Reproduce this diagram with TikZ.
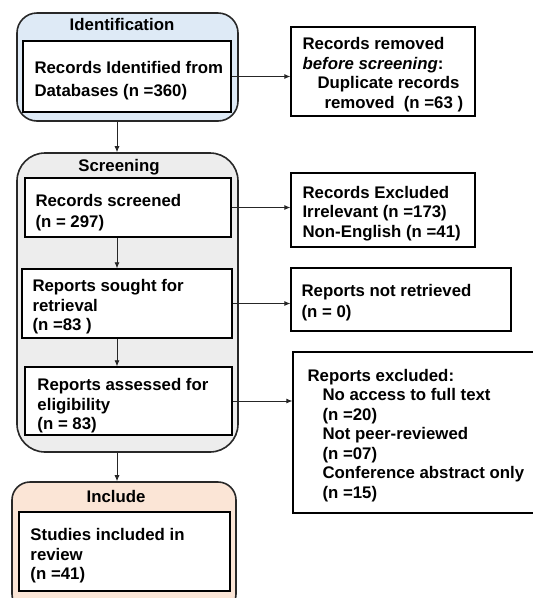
\documentclass[tikz,border=0pt]{standalone}
\usepackage{fontspec}
\setmainfont{Liberation Sans}
\usetikzlibrary{arrows.meta}
\definecolor{idfill}{RGB}{222,234,246}
\definecolor{scfill}{RGB}{237,237,237}
\definecolor{infill}{RGB}{251,229,214}
\definecolor{edge}{RGB}{40,40,40}
\begin{document}
\begin{tikzpicture}[x=1pt,y=-1pt,
  every node/.style={font=\fontsize{16.8}{19.5}\selectfont\bfseries},
  outer/.style={draw=edge, line width=1.6pt, inner sep=0pt},
  box/.style={draw=black, line width=1.4pt, fill=white, inner sep=0pt},
  rbox/.style={draw=black, line width=1.3pt, fill=white, inner sep=0pt},
  txt/.style={align=left, anchor=west, inner sep=0pt},
  ttl/.style={inner sep=0pt},
  arr/.style={draw=black!85, line width=0.8pt, -{Latex[length=6pt,width=5pt]}}]
\useasboundingbox (0,0) rectangle (533,598);
% outer stage boxes
\node[outer, fill=idfill, rounded corners=20pt, minimum width=221pt, minimum height=108pt] (ident) at (127.5,67) {};
\node[outer, fill=scfill, rounded corners=28pt, minimum width=221pt, minimum height=299pt] (screen) at (127.5,302.5) {};
\node[outer, fill=infill, rounded corners=18pt, minimum width=224pt, minimum height=130pt] (incl) at (124,547) {};
% titles
\node[ttl] (tident) at (122,24) {Identification};
\node[ttl] (tscreen) at (119,167) {Screening};
\node[ttl] (tincl) at (116,496) {Include};
% inner boxes
\node[box, minimum width=208pt, minimum height=71pt] (identIn) at (127,76.5) {};
\node[box, minimum width=206pt, minimum height=59pt] (screened) at (128,207.5) {};
\node[box, minimum width=210pt, minimum height=69pt] (sought) at (127,303.5) {};
\node[box, minimum width=207pt, minimum height=68pt] (assessed) at (128.5,401) {};
\node[box, minimum width=211pt, minimum height=79pt] (studies) at (124.5,551.5) {};
% right boxes
\node[rbox, minimum width=184pt, minimum height=89pt] (removed) at (383,71.5) {};
\node[rbox, minimum width=184pt, minimum height=74pt] (excl) at (383,210) {};
\node[rbox, minimum width=220pt, minimum height=63pt] (notret) at (401,299.5) {};
\node[rbox, minimum width=252pt, minimum height=161pt] (rexcl) at (419,432.5) {};
% texts
\node[txt] (tIdentIn) at ([xshift=12pt,yshift=-4pt]identIn.west)
  {Records Identified from\\[3pt]Databases (n =360)};
\node[txt] (tScreened) at ([xshift=11pt,yshift=-5pt]screened.west)
  {Records screened\\[1.5pt](n = 297)};
\node[txt] (tSought) at ([xshift=11pt,yshift=-3.5pt]sought.west)
  {Reports sought for\\retrieval\\(n =83 )};
\node[txt] (tAssessed) at ([xshift=13pt,yshift=-5pt]assessed.west)
  {Reports assessed for\\eligibility\\(n = 83)};
\node[txt] (tStudies) at ([xshift=12pt,yshift=-4.5pt]studies.west)
  {Studies included in\\review\\(n =41)};
\node[txt] (tRemoved) at ([xshift=12pt,yshift=-3pt]removed.west)
  {Records removed\\\textit{before screening}:\\\hspace*{15pt}Duplicate records\\\hspace*{22pt}removed\ \ (n =63 )};
\node[txt] (tExcl) at ([xshift=12pt,yshift=-3.5pt]excl.west)
  {Records Excluded\\Irrelevant (n =173)\\Non-English (n =41)};
\node[txt] (tNotret) at ([xshift=11pt,yshift=-3.5pt]notret.west)
  {Reports not retrieved\\[1.5pt](n = 0)};
\node[txt] (tRexcl) at ([xshift=15pt,yshift=-3pt]rexcl.west)
  {Reports excluded:\\\hspace*{15pt}No access to full text\\\hspace*{15pt}(n =20)\\\hspace*{15pt}Not peer-reviewed\\\hspace*{15pt}(n =07)\\\hspace*{15pt}Conference abstract only\\\hspace*{15pt}(n =15)};
% column for vertical arrows
\coordinate (col) at (117,0);
% connectors
\draw[arr] (identIn.east) -- (identIn.east -| removed.west);
\draw[arr] (screened.east) -- (screened.east -| excl.west);
\draw[arr] (sought.east) -- (sought.east -| notret.west);
\draw[arr] (assessed.east) -- (assessed.east -| rexcl.west);
\draw[arr] (ident.south -| col) -- (screen.north -| col);
\draw[arr] (screened.south -| col) -- (sought.north -| col);
\draw[arr] (sought.south -| col) -- (assessed.north -| col);
\draw[arr] (screen.south -| col) -- (incl.north -| col);
\end{tikzpicture}
\end{document}
